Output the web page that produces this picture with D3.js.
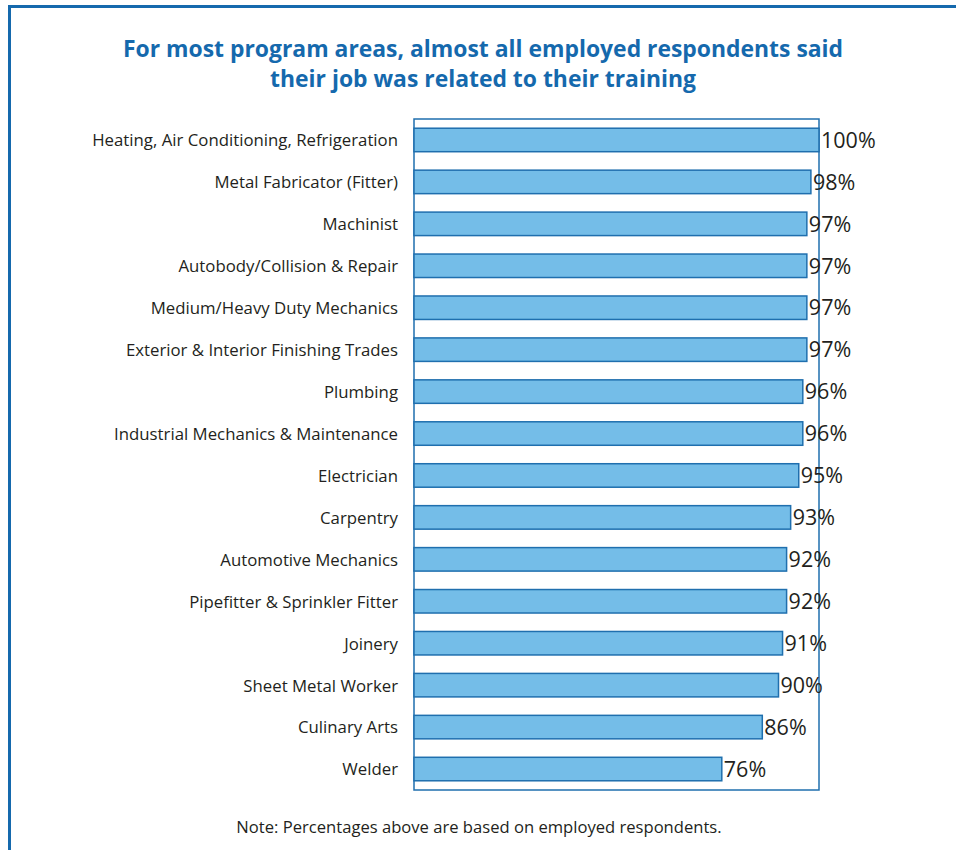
<!DOCTYPE html>
<html>
<head>
<meta charset="utf-8">
<script src="https://cdn.jsdelivr.net/npm/d3@7"></script>
<style>
  html, body { margin: 0; padding: 0; background: #fff; }
  svg { display: block; }
</style>
</head>
<body>
<svg id="chart" width="956" height="850"></svg>
<script>
// Program areas, top to bottom
const programs = [
  "Heating, Air Conditioning, Refrigeration",
  "Metal Fabricator (Fitter)",
  "Machinist",
  "Autobody/Collision & Repair",
  "Medium/Heavy Duty Mechanics",
  "Exterior & Interior Finishing Trades",
  "Plumbing",
  "Industrial Mechanics & Maintenance",
  "Electrician",
  "Carpentry",
  "Automotive Mechanics",
  "Pipefitter & Sprinkler Fitter",
  "Joinery",
  "Sheet Metal Worker",
  "Culinary Arts",
  "Welder"
];
// Share of employed respondents whose job relates to their training (%)
const related = [100, 98, 97, 97, 97, 97, 96, 96, 95, 93, 92, 92, 91, 90, 86, 76];

const titleLines = [
  "For most program areas, almost all employed respondents said",
  "their job was related to their training"
];
const note = "Note: Percentages above are based on employed respondents.";

const blue = "#1569ad";
const barFill = "#74bde8";
const barStroke = "#1f6fae";
const textColor = "#231f20";
const font = "'Open Sans', 'Noto Sans', sans-serif";

const svg = d3.select("#chart");

// Outer frame (top and left edges visible)
svg.append("rect")
  .attr("x", 9.5).attr("y", 6.5)
  .attr("width", 980).attr("height", 900)
  .attr("fill", "none")
  .attr("stroke", blue)
  .attr("stroke-width", 3);

// Title
svg.append("g").selectAll("text")
  .data(titleLines)
  .join("text")
  .attr("x", 483)
  .attr("y", (d, i) => 57 + i * 30)
  .attr("text-anchor", "middle")
  .attr("font-family", font)
  .attr("font-weight", 700)
  .attr("font-size", 22.9)
  .attr("fill", blue)
  .text(d => d);

const plot = { left: 414, right: 819, top: 119, bottom: 790 };

const x = d3.scaleLinear().domain([0, 100]).range([plot.left, plot.right]);
const y = d3.scaleBand().domain(programs).range([plot.top, plot.bottom]).paddingInner(0.44).paddingOuter(0.22);

// Plot box
svg.append("rect")
  .attr("x", plot.left).attr("y", plot.top)
  .attr("width", plot.right - plot.left)
  .attr("height", plot.bottom - plot.top)
  .attr("fill", "none")
  .attr("stroke", barStroke)
  .attr("stroke-width", 1.5);

// Bars
svg.append("g").selectAll("rect")
  .data(programs)
  .join("rect")
  .attr("x", x(0))
  .attr("y", d => y(d))
  .attr("width", (d, i) => x(related[i]) - x(0))
  .attr("height", y.bandwidth())
  .attr("fill", barFill)
  .attr("stroke", barStroke)
  .attr("stroke-width", 1.5);

// Category axis labels
const yAxis = d3.axisLeft(y).tickSize(0).tickPadding(16);
const gy = svg.append("g")
  .attr("transform", `translate(${plot.left},0)`)
  .call(yAxis);
gy.select(".domain").remove();
gy.selectAll("text")
  .attr("dy", "0.38em")
  .attr("font-family", font)
  .attr("font-size", 16.8)
  .attr("fill", textColor);

// Value labels
svg.append("g").selectAll("text")
  .data(programs)
  .join("text")
  .attr("x", (d, i) => x(related[i]) + 2)
  .attr("y", d => y(d) + y.bandwidth() / 2)
  .attr("dy", "0.36em")
  .attr("font-family", font)
  .attr("font-size", 21.5)
  .attr("fill", textColor)
  .text((d, i) => related[i] + "%");

// Footnote
svg.append("text")
  .attr("x", 479)
  .attr("y", 833)
  .attr("text-anchor", "middle")
  .attr("font-family", font)
  .attr("font-size", 16.6)
  .attr("fill", textColor)
  .text(note);
</script>
</body>
</html>
